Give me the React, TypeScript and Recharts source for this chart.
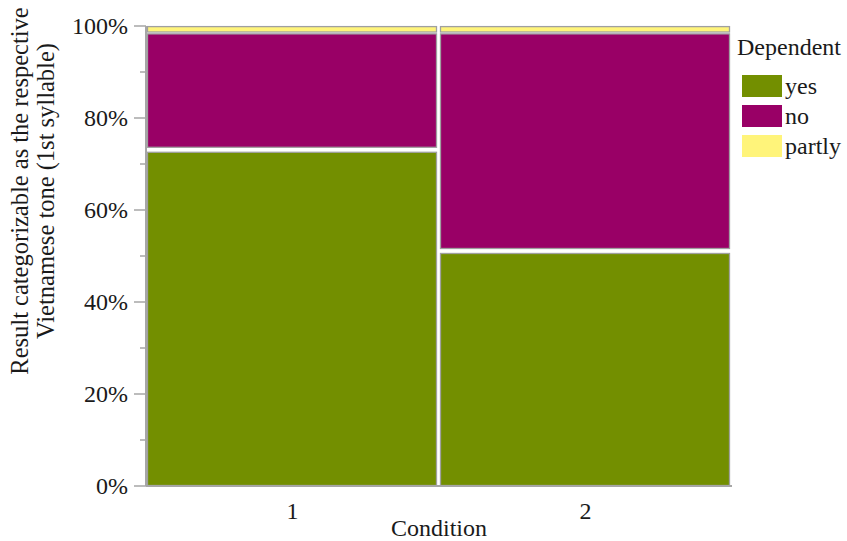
import React from "react";
import { BarChart, Bar, XAxis, YAxis } from "recharts";

// Condition categories on the x axis
const conditions = ["1", "2"];

// Share of answers per condition, in percent
const yesPct = [73.2, 51.2];
const noPct = [25.3, 47.3];
const partlyPct = [1.5, 1.5];

const yTicks = [0, 10, 20, 30, 40, 50, 60, 70, 80, 90, 100];

const series = [
  { key: "yes", label: "yes", color: "#738f00" },
  { key: "no", label: "no", color: "#990066" },
  { key: "partly", label: "partly", color: "#fff47a" },
];

const data = conditions.map((c, i) => ({
  condition: c,
  yes: yesPct[i],
  no: noPct[i],
  partly: partlyPct[i],
}));

const FONT = '"Liberation Serif", "DejaVu Serif", serif';
const TEXT = "#1a1a1a";
const AXIS = "#a6a6a6";
const txt = { fontFamily: FONT, fontSize: 24, fill: TEXT };

// white spacing kept inside each tile (top / bottom), px
const tilePad: Record<string, { top: number; bottom: number }> = {
  yes: { top: 3, bottom: 0.5 },
  no: { top: 1, bottom: 2 },
  partly: { top: 0.6, bottom: 0.9 },
};

// mosaic tile: white gap around each cell, thin grey outline
const MosaicCell = (props: any) => {
  const { x, y, width, height, fill, pad } = props;
  const top = pad ? pad.top : 1;
  const bottom = pad ? pad.bottom : 1;
  const left = 1.5, right = 2.5;
  const w = Math.max(width - left - right, 0.5);
  const h = Math.max(height - top - bottom, 0.5);
  return (
    <rect x={x + left} y={y + top} width={w} height={h} fill={fill} stroke="#a0a0a0" strokeWidth={1.3} />
  );
};

const YTick = (props: any) => {
  const { x, y, payload } = props;
  const major = payload.value % 20 === 0;
  return (
    <g>
      <line x1={x - (major ? 12 : 6)} x2={x} y1={y} y2={y} stroke={AXIS} strokeWidth={1.5} />
      {major && (
        <text x={x - 18} y={y} dy="0.35em" textAnchor="end" style={txt}>
          {payload.value}%
        </text>
      )}
    </g>
  );
};

const XTick = (props: any) => {
  const { x, y, payload } = props;
  return (
    <text x={x} y={y + 25} textAnchor="middle" style={txt}>
      {payload.value}
    </text>
  );
};

const XTitle = (props: any) => {
  const vb = props.viewBox || { x: 146, y: 486, width: 586 };
  return (
    <text x={vb.x + vb.width / 2} y={536} textAnchor="middle" style={txt}>
      Condition
    </text>
  );
};

const YTitle = () => {
  const cy = 191;
  const t = { ...txt, fontSize: 24.5 };
  return (
    <g>
      <text x={28} y={cy} textAnchor="middle" transform={`rotate(-90 28 ${cy})`} style={t}>
        Result categorizable as the respective
      </text>
      <text x={54} y={cy} textAnchor="middle" transform={`rotate(-90 54 ${cy})`} style={t}>
        Vietnamese tone (1st syllable)
      </text>
    </g>
  );
};

const App = () => {
  return (
    <div style={{ position: "absolute", left: 0, top: 0, width: 847, height: 541, background: "#fff" }}>
      <BarChart
        width={847}
        height={541}
        data={data}
        margin={{ top: 26, right: 115, bottom: 0, left: 0 }}
        barCategoryGap={0}
      >
        <XAxis
          dataKey="condition"
          height={55}
          tickLine={false}
          tick={<XTick />}
          axisLine={{ stroke: AXIS, strokeWidth: 2 }}
          label={<XTitle />}
        />
        <XAxis
          xAxisId="top"
          orientation="top"
          dataKey="condition"
          height={0}
          tick={false}
          tickLine={false}
          axisLine={{ stroke: AXIS, strokeWidth: 1.5 }}
        />
        <YAxis
          width={146}
          domain={[0, 100]}
          ticks={yTicks}
          interval={0}
          tickSize={0}
          tickMargin={0}
          tickLine={false}
          tick={<YTick />}
          axisLine={{ stroke: AXIS, strokeWidth: 2 }}
          label={<YTitle />}
        />
        <YAxis
          yAxisId="right"
          orientation="right"
          width={0}
          domain={[0, 100]}
          tick={false}
          tickLine={false}
          axisLine={{ stroke: AXIS, strokeWidth: 2 }}
        />
        {series.map((s) => (
          <Bar
            key={s.key}
            dataKey={s.key}
            stackId="a"
            fill={s.color}
            shape={<MosaicCell pad={tilePad[s.key]} />}
            isAnimationActive={false}
          />
        ))}
      </BarChart>
      <svg
        width={847}
        height={541}
        style={{ position: "absolute", left: 0, top: 0, pointerEvents: "none" }}
      >
        <text x={737} y={55} style={txt}>
          Dependent
        </text>
        {series.map((s, i) => (
          <g key={s.key}>
            <rect x={742} y={75 + i * 30} width={40} height={22} fill={s.color} />
            <text x={785} y={94 + i * 30} style={txt}>
              {s.label}
            </text>
          </g>
        ))}
      </svg>
    </div>
  );
};

export default App;
